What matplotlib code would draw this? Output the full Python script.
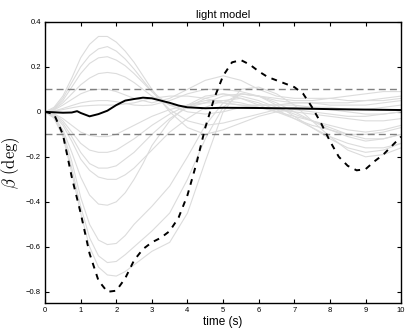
import matplotlib
matplotlib.use("Agg")
import matplotlib.pyplot as plt
import numpy as np

plt.rcParams['font.family'] = ['Liberation Sans', 'DejaVu Sans']
plt.rcParams['mathtext.fontset'] = 'cm'

# time grid of the grey runs (s)
t_grey = [0, 0.25, 0.5, 0.75, 1, 1.25, 1.5, 1.75, 2, 2.25, 2.5, 2.75, 3,
          3.5, 4, 4.5, 5, 5.5, 6, 6.5, 7, 7.5, 8, 8.5, 9, 9.5, 10]

# grey runs, beta (deg)
grey_runs = [
    [0, .02, .07, .15, .24, .30, .335, .335, .31, .27, .22, .16, .10,
     0.0, -0.07, -0.10, -0.08, -0.05, -0.02, 0.0, 0.01, 0.0, -0.01, -0.02, -0.02, -0.01, 0.0],
    [0, .015, .06, .13, .20, .25, .28, .29, .27, .235, .19, .14, .09,
     0.01, -0.04, -0.06, -0.05, -0.03, -0.01, 0.01, 0.02, 0.02, 0.01, 0.0, -0.01, -0.01, 0.0],
    [0, .012, .05, .11, .17, .215, .24, .245, .23, .205, .17, .13, .09,
     0.03, 0.0, -0.01, 0.0, 0.02, 0.03, 0.03, 0.03, 0.02, 0.02, 0.01, 0.01, 0.02, 0.03],
    [0, .01, .04, .08, .12, .15, .17, .175, .17, .155, .13, .10, .07,
     0.03, 0.02, 0.04, 0.07, 0.08, 0.07, 0.05, 0.04, 0.04, 0.04, 0.04, 0.05, 0.06, 0.07],
    [0, .008, .03, .055, .08, .095, .10, .10, .09, .075, .06, .05, .04,
     0.06, 0.10, 0.14, 0.16, 0.14, 0.10, 0.07, 0.06, 0.06, 0.06, 0.05, 0.05, 0.05, 0.06],
    [0, .004, .015, .028, .04, .047, .05, .05, .045, .038, .03, .028, .03,
     0.05, 0.08, 0.10, 0.10, 0.09, 0.07, 0.06, 0.05, 0.05, 0.06, 0.07, 0.08, 0.09, 0.09],
    [0, .003, .01, .018, .025, .028, .03, .03, .03, .035, .04, .05, .06,
     0.07, 0.07, 0.06, 0.04, 0.03, 0.03, 0.03, 0.04, 0.04, 0.03, 0.03, 0.03, 0.04, 0.05],
    [0, -.008, -.03, -.06, -.09, -.105, -.11, -.11, -.10, -.08, -.06, -.04, -.02,
     0.01, 0.03, 0.04, 0.04, 0.03, 0.02, 0.01, 0.0, -0.01, -0.02, -0.03, -0.04, -0.04, -0.03],
    [0, -.01, -.04, -.09, -.14, -.17, -.18, -.18, -.17, -.145, -.12, -.09, -.06,
     -0.01, 0.03, 0.05, 0.05, 0.04, 0.02, 0.0, -0.02, -0.04, -0.06, -0.08, -0.09, -0.08, -0.06],
    [0, -.012, -.05, -.11, -.18, -.23, -.25, -.25, -.24, -.21, -.18, -.14, -.10,
     -0.03, 0.02, 0.06, 0.08, 0.07, 0.05, 0.02, -0.01, -0.04, -0.07, -0.10, -0.12, -0.12, -0.10],
    [0, -.015, -.06, -.13, -.21, -.26, -.29, -.30, -.30, -.28, -.25, -.21, -.17,
     -0.09, -0.03, 0.02, 0.05, 0.06, 0.04, 0.01, -0.03, -0.07, -0.11, -0.14, -0.16, -0.16, -0.14],
    [0, -.02, -.08, -.18, -.29, -.37, -.41, -.415, -.40, -.36, -.30, -.23, -.15,
     -0.04, 0.03, 0.07, 0.08, 0.06, 0.03, 0.0, -0.03, -0.06, -0.08, -0.10, -0.10, -0.09, -0.07],
    [0, -.022, -.09, -.22, -.38, -.50, -.57, -.59, -.585, -.55, -.50, -.46, -.42,
     -0.33, -0.20, -0.06, 0.04, 0.08, 0.07, 0.04, 0.0, -0.04, -0.08, -0.11, -0.13, -0.12, -0.10],
    [0, -.025, -.10, -.25, -.42, -.56, -.64, -.67, -.665, -.635, -.60, -.565, -.53,
     -0.45, -0.30, -0.12, 0.02, 0.08, 0.07, 0.03, -0.02, -0.07, -0.12, -0.16, -0.18, -0.17, -0.14],
    [0, -.028, -.11, -.27, -.45, -.60, -.69, -.725, -.73, -.71, -.68, -.65, -.62,
     -0.58, -0.45, -0.22, 0.0, 0.10, 0.11, 0.08, 0.03, -0.04, -0.11, -0.17, -0.20, -0.19, -0.16],
]

# dashed worst-case run
t_dash = [0, 0.25, 0.5, 0.75, 1, 1.25, 1.5, 1.75, 2, 2.25, 2.5, 2.75, 3, 3.25, 3.5, 3.75, 4, 4.25,
          4.5, 4.75, 5, 5.25, 5.5, 5.75, 6, 6.25, 6.5, 6.75, 7, 7.25, 7.5, 7.75, 8, 8.25, 8.5, 8.75,
          9, 9.25, 9.5, 9.75, 10]
beta_dash = [0, -0.01, -0.10, -0.29, -0.45, -0.63, -0.75, -0.80, -0.795, -0.74, -0.66, -0.61, -0.58,
             -0.56, -0.53, -0.47, -0.37, -0.23, -0.07, 0.06, 0.16, 0.22, 0.23, 0.21, 0.18, 0.155, 0.14,
             0.125, 0.11, 0.08, 0.02, -0.05, -0.13, -0.20, -0.24, -0.26, -0.255, -0.22, -0.19, -0.15, -0.11]

# solid nominal run
t_solid = [0, 0.25, 0.5, 0.75, 0.9, 1, 1.25, 1.5, 1.75, 2, 2.25, 2.5, 2.75, 3, 3.25, 3.5, 3.75, 4,
           4.5, 5, 6, 7, 8, 9, 10]
beta_solid = [0, -0.002, -0.004, -0.003, 0.003, -0.005, -0.02, -0.01, 0.005, 0.03, 0.05, 0.057, 0.063,
              0.06, 0.05, 0.04, 0.028, 0.02, 0.016, 0.018, 0.017, 0.015, 0.012, 0.01, 0.008]

bound = 0.1

fig = plt.figure(figsize=(4.06, 3.36), dpi=100)
ax = fig.add_axes([0.111, 0.098, 0.877, 0.837])

for run in grey_runs:
    ax.plot(t_grey, run, color='#dcdcdc', lw=0.8)
ax.axhline(bound, color='#808080', lw=1.0, ls=(0, (5, 3)))
ax.axhline(-bound, color='#808080', lw=1.0, ls=(0, (5, 3)))
ax.plot(t_dash, beta_dash, color='black', lw=1.4, ls=(0, (3, 3)))
ax.plot(t_solid, beta_solid, color='black', lw=1.4)

ax.set_xlim(0, 10)
ax.set_ylim(-0.85, 0.4)
ax.set_xticks(range(0, 11))
ax.set_yticks([-0.8, -0.6, -0.4, -0.2, 0, 0.2, 0.4])
ax.set_yticklabels(['\u22120.8', '\u22120.6', '\u22120.4', '\u22120.2', '0', '0.2', '0.4'])
ax.tick_params(direction='in', top=True, right=True, labelsize=5.5, length=3, width=0.8, pad=3)
for s in ax.spines.values():
    s.set_linewidth(1.0)

ax.set_title('light model', fontsize=8, pad=3)
ax.set_xlabel('time (s)', fontsize=8.5, labelpad=1)
ax.set_ylabel(r'$\beta\ (\mathrm{deg})$', fontsize=12, labelpad=3)

fig.savefig('out.png', dpi=100)
